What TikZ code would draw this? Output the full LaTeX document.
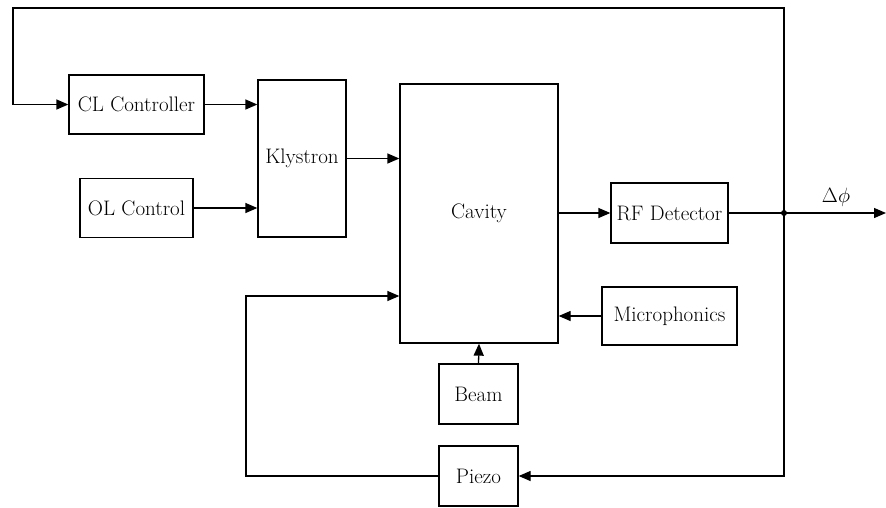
\documentclass[tikz,border=0pt]{standalone}
\usepackage{fontspec}
\usetikzlibrary{arrows.meta}
\begin{document}
\begin{tikzpicture}[x=1pt,y=-1pt,
  blk/.style={draw, line width=1.3pt, inner sep=0pt, font=\fontsize{21}{25}\selectfont},
  conn/.style={line width=1.3pt, -{Triangle[length=12pt,width=10pt]}},
  wire/.style={line width=1.3pt}]
\useasboundingbox (0,0) rectangle (886,507);
\node[blk, minimum width=135pt, minimum height=59pt] (cl) at (136.5,104.5) {CL Controller};
\node[blk, minimum width=113pt, minimum height=59pt] (ol) at (136.5,208) {OL Control};
\node[blk, minimum width=88pt, minimum height=157pt] (kly) at (302,158.5) {Klystron};
\node[blk, minimum width=158pt, minimum height=259pt] (cav) at (479,213.5) {Cavity};
\node[blk, minimum width=117pt, minimum height=60pt] (rf) at (669.5,213) {RF Detector};
\node[blk, minimum width=135pt, minimum height=58pt] (mic) at (669.5,316) {Microphonics};
\node[blk, minimum width=79pt, minimum height=60pt] (beam) at (478.5,394) {Beam};
\node[blk, minimum width=79pt, minimum height=60pt] (piezo) at (478.5,476) {Piezo};
\coordinate (j) at (784,213);
\coordinate (out) at (886,213);
\coordinate (tl) at (13,8);
\coordinate (pl) at (246,296);
\node[font=\fontsize{21}{25}\selectfont] (dphi) at (836,197) {$\Delta\phi$};
\draw[conn] (cl.east) -- (kly.west |- cl.east);
\draw[conn] (ol.east) -- (kly.west |- ol.east);
\draw[conn] (kly.east) -- (cav.west |- kly.east);
\draw[conn] (cav.east |- rf.west) -- (rf.west);
\draw[conn] (rf.east) -- (out);
\fill (j) circle (3pt);
\draw[conn] (j) |- (tl) |- (cl.west);
\draw[conn] (j) |- (piezo.east);
\draw[conn] (piezo.west) -| (pl) -- (cav.west |- pl);
\draw[conn] (mic.west) -- (cav.east |- mic.west);
\draw[conn] (beam.north) -- (cav.south);
\end{tikzpicture}
\end{document}
